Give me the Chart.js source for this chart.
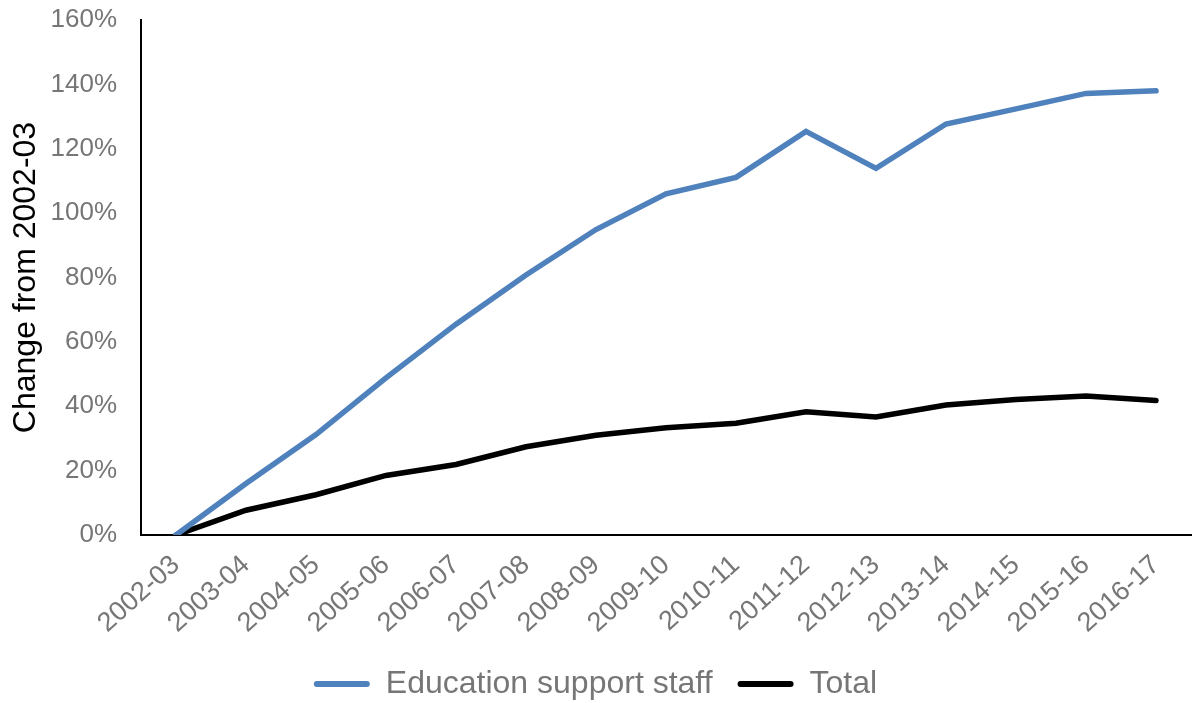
<!DOCTYPE html>
<html>
<head>
<meta charset="utf-8">
<script src="https://cdn.jsdelivr.net/npm/chart.js@4/dist/chart.umd.min.js"></script>
<style>
  html, body { margin: 0; padding: 0; background: #fff; overflow: hidden; }
  #wrap { width: 1195px; height: 710px; position: relative; }
</style>
</head>
<body>
<div id="wrap"><canvas id="chart"></canvas></div>
<script>
const years = [
  "2002-03", "2003-04", "2004-05", "2005-06", "2006-07", "2007-08", "2008-09",
  "2009-10", "2010-11", "2011-12", "2012-13", "2013-14", "2014-15", "2015-16", "2016-17"
];

// % change from 2002-03
const educationSupportStaff = [0, 16.0, 31.2, 48.8, 65.5, 80.8, 94.9, 106.0, 111.1, 125.4, 113.9, 127.7, 132.4, 137.2, 138.0];
const totalStaff = [0, 7.7, 12.5, 18.5, 21.9, 27.4, 31.0, 33.3, 34.7, 38.3, 36.7, 40.4, 42.1, 43.2, 41.8];

const yTicks = [0, 20, 40, 60, 80, 100, 120, 140, 160];

const grey = "#767676";
const font = "'Liberation Sans', Arial, sans-serif";

const ctx = document.getElementById("chart").getContext("2d");

new Chart(ctx, {
  type: "line",
  data: {
    labels: years,
    datasets: [
      {
        label: "Education support staff",
        data: educationSupportStaff,
        borderColor: "#4F81BD",
        backgroundColor: "#4F81BD",
        borderWidth: 5.5,
        pointRadius: 0,
        fill: false,
        borderCapStyle: "round",
      },
      {
        label: "Total",
        data: totalStaff,
        borderColor: "#000000",
        backgroundColor: "#000000",
        borderWidth: 5.5,
        pointRadius: 0,
        fill: false,
        borderCapStyle: "round",
      },
    ],
  },
  options: {
    responsive: true,
    maintainAspectRatio: false,
    animation: false,
    layout: {
      padding: { top: 20, right: 4, left: 0, bottom: 0 },
    },
    plugins: {
      tooltip: { enabled: false },
      legend: {
        position: "bottom",
        labels: {
          boxWidth: 56,
          boxHeight: 6,
          padding: 25,
          color: grey,
          useBorderRadius: true,
          borderRadius: 3,
          font: { family: font, size: 32 },
          generateLabels: (chart) =>
            Chart.defaults.plugins.legend.labels
              .generateLabels(chart)
              .map((item) => ({ ...item, lineWidth: 0 })),
        },
      },
    },
    scales: {
      x: {
        offset: true,
        grid: { display: false, drawTicks: false },
        border: { display: true, color: "#000", width: 2 },
        ticks: {
          color: grey,
          font: { family: font, size: 27 },
          minRotation: 42,
          maxRotation: 42,
          autoSkip: false,
          padding: 14,
        },
        afterFit: (scale) => {
          scale.height = 108;
          scale.paddingTop = 0;
          scale.paddingBottom = 0;
        },
      },
      y: {
        min: 0,
        max: 160,
        grid: { display: false, drawTicks: false },
        border: { display: true, color: "#000", width: 2 },
        afterBuildTicks: (scale) => {
          scale.ticks = yTicks.map((v) => ({ value: v }));
        },
        ticks: {
          color: grey,
          font: { family: font, size: 26 },
          padding: 24,
          callback: (value) => value + "%",
        },
        title: {
          display: true,
          text: "Change from 2002-03",
          color: "#000",
          font: { family: font, size: 32 },
          padding: { top: 7, bottom: 0 },
        },
        afterFit: (scale) => {
          scale.width = 141;
          scale.paddingTop = 0;
          scale.paddingBottom = 0;
        },
      },
    },
  },
});
</script>
</body>
</html>
